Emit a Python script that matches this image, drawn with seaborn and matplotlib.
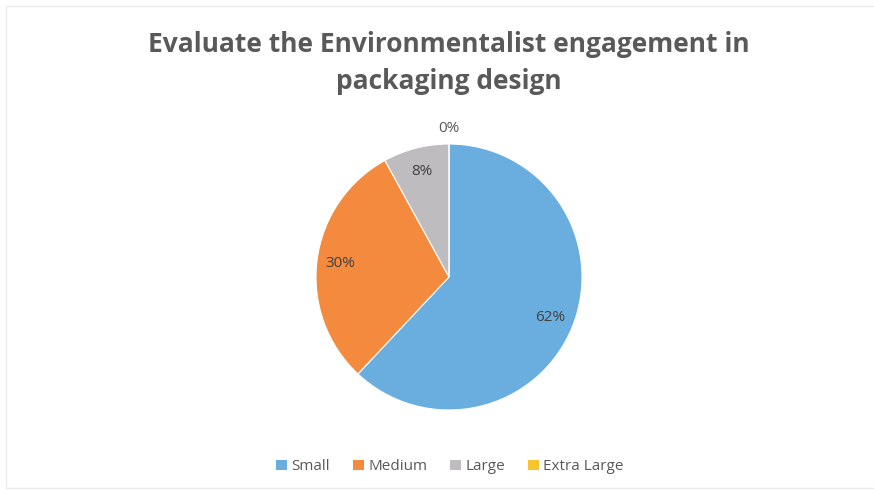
import matplotlib
matplotlib.use("Agg")
import matplotlib.pyplot as plt
import matplotlib.patches as mpatches
import seaborn as sns

# Survey results
categories = ["Small", "Medium", "Large", "Extra Large"]
shares = [62, 30, 8, 0]
title = "Evaluate the Environmentalist engagement in\npackaging design"

sns.set_theme(style="white")
plt.rcParams["font.family"] = ["Open Sans", "DejaVu Sans"]

palette = sns.color_palette(["#6aaee0", "#f38a3d", "#bebcbe", "#f8c32c"])
text_gray = "#595959"

W, H = 874, 491
fig = plt.figure(figsize=(W / 100, H / 100), dpi=100)
fig.patch.set_facecolor("white")

# faint chart-area frame
fig.patches.append(mpatches.Rectangle((6 / W, 3 / H), 1.0, (H - 9) / H,
                                      transform=fig.transFigure, fill=False,
                                      edgecolor="#ebebeb", linewidth=1.0))

cx, cy, r = 449, 277, 133
ax = fig.add_axes([(cx - r) / W, (H - cy - r) / H, 2 * r / W, 2 * r / H])

wedges, texts, autotexts = ax.pie(
    shares, colors=palette, startangle=90, counterclock=False,
    autopct="%1.0f%%", pctdistance=0.82,
    wedgeprops=dict(linewidth=0.8, edgecolor="white"),
    textprops=dict(color="#404040", fontsize=11),
)
for val, t in zip(shares, autotexts):
    if val == 0:
        x, y = t.get_position()
        t.set_position((x / 0.82 * 1.12, y / 0.82 * 1.12))
        t.set_color(text_gray)

ax.set_xlim(-1, 1)
ax.set_ylim(-1, 1)
ax.set_aspect("equal")
ax.axis("off")

fig.text(0.513, 0.872, title, ha="center", va="center", fontsize=19,
         fontweight="bold", color=text_gray, linespacing=1.5)

handles = [mpatches.Patch(facecolor=c, edgecolor="none") for c in palette]
fig.legend(handles, categories, loc="center", bbox_to_anchor=(0.515, 0.049),
           ncol=4, frameon=False, fontsize=11, handlelength=0.7,
           handleheight=0.7, handletextpad=0.3, columnspacing=1.5,
           labelcolor=text_gray)

fig.savefig("out.png", dpi=100, facecolor="white")
